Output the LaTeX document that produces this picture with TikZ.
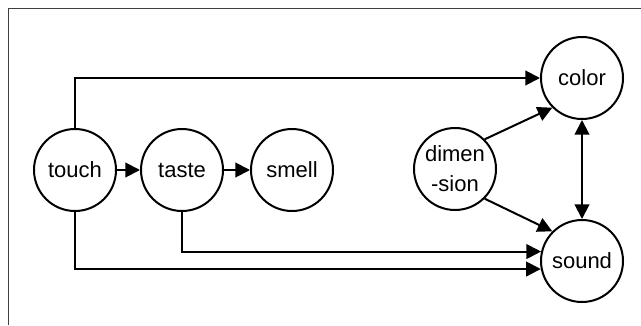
\documentclass[tikz,border=0pt]{standalone}
\usepackage{fontspec}
\setmainfont{Liberation Sans}
\usetikzlibrary{arrows.meta}

\begin{document}
\begin{tikzpicture}[x=0.75pt, y=-0.75pt, line width=1.5pt,
        sense/.style={circle, draw, minimum size=61.5pt, inner sep=0pt, align=center, font=\fontsize{16.5}{22.5}\selectfont},
        >={Triangle[length=11pt, width=11pt]}]

        \useasboundingbox (0, 0) rectangle (641, 325);
        \draw[black!75, line width=0.75pt] (8, 325) -- (8, 8) -- (641, 8);

        \foreach \name/\x/\y/\txt in {touch/75/170/touch, taste/182/170/taste, smell/292/170/smell, dim/455/169/{dimen\\-sion}, color/582/78/color, sound/582/261/sound} {
            \node[sense] (\name) at (\x, \y) {\txt};
        }

        \draw[->] (touch) -- (taste);
        \draw[->] (taste) -- (smell);
        \draw[->] (touch.north) |- (color);
        \draw[->] (touch.south) |- (sound.191);
        \draw[->] (taste.south) |- (sound.167);

        \draw[->] (dim.45) -- (color.225);
        \draw[->] (dim.-45) -- (sound.135);
        \draw[<->] (color) -- (sound);
    \end{tikzpicture}
\end{document}
